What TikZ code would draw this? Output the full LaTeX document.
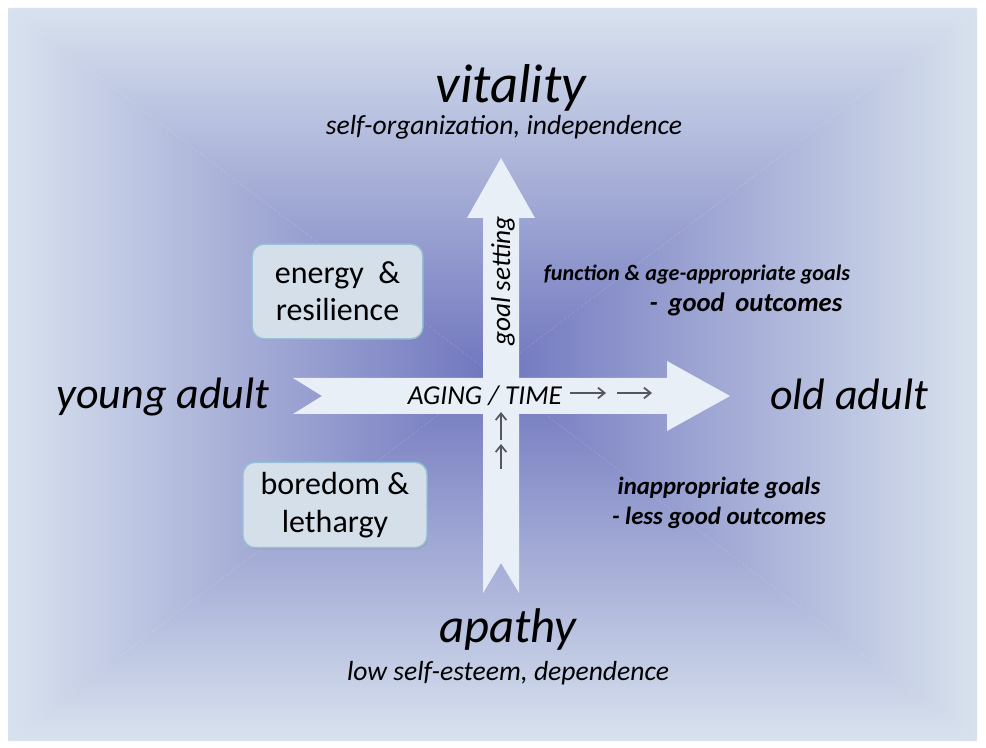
\documentclass[tikz,border=0pt]{standalone}
\usepackage{fontspec}
\setmainfont{Carlito}
\usetikzlibrary{shadows,arrows.meta}
\definecolor{bgedge}{RGB}{216,226,238}
\definecolor{bgcentre}{RGB}{112,118,190}
\definecolor{arrowfill}{RGB}{233,239,246}
\definecolor{boxfill}{RGB}{213,223,234}
\definecolor{boxline}{RGB}{150,192,214}
\definecolor{tickgray}{RGB}{85,85,100}
\def\bigitalic{\fontsize{41}{44}\selectfont\itshape}
\def\sideitalic{\fontsize{33}{38}\selectfont\itshape}
\def\subitalic{\fontsize{20.7}{24}\selectfont\itshape}
\tikzset{
	moodbox/.style={draw=boxline, line width=1.1pt, fill=boxfill, rounded corners=9pt, align=center, inner sep=0pt, font=\fontsize{24}{28}\selectfont, drop shadow={opacity=0.25, shadow xshift=0.8pt, shadow yshift=-1.2pt}},
	smalltick/.style={draw=tickgray, line width=1.3pt, -{Straight Barb[length=5pt,width=8pt]}},
	note/.style={anchor=base, font=\fontsize{#1}{#1}\selectfont\bfseries\itshape},
}
\begin{document}
\begin{tikzpicture}[x=0.75pt,y=0.75pt,yscale=-1,xscale=1]
	\useasboundingbox (0,0) rectangle (986,748);
	\fill [white] (0,0) rectangle (986,748);
	% back plate, shaded from the rim to the middle
	\coordinate (mid) at (492,374);
	\shade [top color=bgedge, bottom color=bgcentre] (8,8) -- (977,8) -- (mid) -- cycle;
	\shade [top color=bgcentre, bottom color=bgedge] (8,741) -- (977,741) -- (mid) -- cycle;
	\shade [left color=bgedge, right color=bgcentre] (8,8) -- (8,741) -- (mid) -- cycle;
	\shade [left color=bgcentre, right color=bgedge] (977,8) -- (977,741) -- (mid) -- cycle;
	% the two big arrows
	\fill [arrowfill] (293,378) -- (667,378) -- (667,361) -- (730,396) -- (667,431) -- (667,414) -- (293,414) -- (322,396) -- cycle;
	\fill [arrowfill] (483,593) -- (483,218) -- (467,218) -- (501,158) -- (535,218) -- (519,218) -- (519,593) -- (501,563) -- cycle;
	% little arrows on the shafts
	\coordinate (ra) at (570,393);
	\coordinate (rb) at (606,393);
	\coordinate (rc) at (617,393);
	\coordinate (rd) at (652,393);
	\coordinate (ua) at (501,440);
	\coordinate (ub) at (501,412);
	\coordinate (uc) at (501,469);
	\coordinate (ud) at (501,444);
	\draw [smalltick] (ra) -- (rb);
	\draw [smalltick] (rc) -- (rd);
	\draw [smalltick] (ua) -- (ub);
	\draw [smalltick] (uc) -- (ud);
	% boxes
	\draw (337.5,291.5) node [moodbox, minimum width=128pt, minimum height=71pt] (energy) {energy~~\&\\resilience};
	\draw (335,505) node [moodbox, minimum width=138pt, minimum height=64pt] (boredom) {boredom \&\\lethargy};
	% labels
	\draw (511,103) node [anchor=base, font=\bigitalic] (vitality) {vitality};
	\draw (504,135) node [anchor=base, font=\subitalic] (vitalsub) {self-organization, independence};
	\draw (508,642) node [anchor=base, font=\fontsize{36.5}{40}\selectfont\itshape] (apathy) {apathy};
	\draw (508,680) node [anchor=base, font=\subitalic] (apathysub) {low self-esteem, dependence};
	\draw (163,409) node [anchor=base, font=\sideitalic] (young) {young adult};
	\draw (849,410) node [anchor=base, font=\sideitalic] (old) {old adult};
	\draw (485,405) node [anchor=base, font=\fontsize{20.5}{24}\selectfont\itshape] (aging) {AGING / TIME};
	\draw (503,281) node [rotate=90, font=\fontsize{20.5}{24}\selectfont\itshape] (goal) {goal setting};
	\draw (697,281) node [note=16.6] (goodgoals) {function \& age-appropriate goals};
	\draw (746,312) node [note=20] (goodout) {-\hspace{0.4em}good\hspace{0.4em}outcomes};
	\draw (719,495) node [note=18.6] (badgoals) {inappropriate goals};
	\draw (719,525) node [note=18.6] (badout) {- less good outcomes};
\end{tikzpicture}
\end{document}
